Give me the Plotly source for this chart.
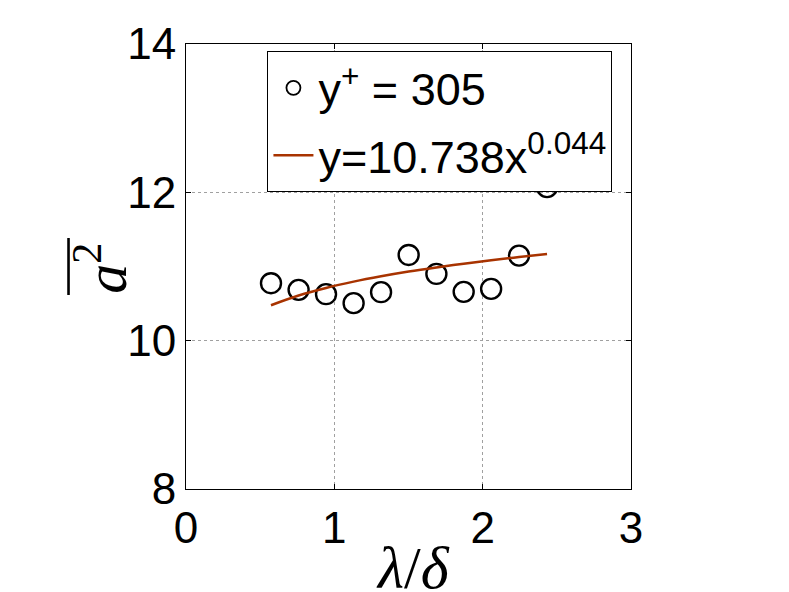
import plotly.graph_objects as go

x_vals = [0.573, 0.759, 0.944, 1.130, 1.315, 1.501, 1.688, 1.872, 2.057, 2.245, 2.434]
y_vals = [10.775, 10.685, 10.627, 10.506, 10.654, 11.156, 10.900, 10.658, 10.698, 11.147, 12.07]
fit_y = [10.478, 10.609, 10.711, 10.796, 10.868, 10.932, 10.988, 11.038, 11.084, 11.127, 11.167]

x_ticks = [0, 1, 2, 3]
y_ticks = [8, 10, 12, 14]
series_label = "y<sup>+</sup> = 305"
fit_label = "y=10.738x<sup>0.044</sup>"

FONT = "Liberation Sans, Arial, sans-serif"
SERIF = "Liberation Serif, DejaVu Serif, serif"
LINE_COLOR = "#a83300"

fig = go.Figure()
fig.add_trace(go.Scatter(
    x=x_vals, y=y_vals, mode="markers", showlegend=False,
    marker=dict(symbol="circle-open", size=20, color="black", line=dict(width=2.4, color="black")),
))
fig.add_trace(go.Scatter(
    x=x_vals, y=fit_y, mode="lines", showlegend=False,
    line=dict(color=LINE_COLOR, width=2.5, shape="spline"),
))
# legend-only entries
fig.add_trace(go.Scatter(
    x=[None], y=[None], mode="markers", name=series_label, legendgroup="a",
    marker=dict(symbol="circle-open", size=14, color="black", line=dict(width=1.8, color="black")),
))
fig.add_trace(go.Scatter(
    x=[None], y=[None], mode="lines", name=fit_label, legendgroup="b",
    line=dict(color=LINE_COLOR, width=2.5),
))

axis_common = dict(
    showline=True, linecolor="black", linewidth=1, mirror="ticks",
    ticks="inside", ticklen=5, tickcolor="black",
    showgrid=True, gridcolor="#a0a0a0", griddash="dot", gridwidth=1,
    zeroline=False, automargin=False,
    tickfont=dict(family=FONT, size=44, color="black"),
)

fig.update_layout(
    width=789, height=592,
    paper_bgcolor="white", plot_bgcolor="white",
    margin=dict(l=178, r=166, t=36, b=111, autoexpand=False),
    xaxis=dict(range=[0, 3], tickvals=x_ticks, ticktext=[str(v) for v in x_ticks], **axis_common),
    yaxis=dict(range=[8, 14], tickvals=y_ticks, ticktext=[str(v) for v in y_ticks], **axis_common),
    legend=dict(
        x=0.183, y=0.984, xanchor="left", yanchor="top",
        bgcolor="white", bordercolor="black", borderwidth=1,
        font=dict(family=FONT, size=45, color="black"),
        tracegroupgap=6, itemwidth=40,
    ),
    showlegend=True,
)

fig.add_annotation(
    text="<i>λ</i>/<i>δ</i>", xref="paper", yref="paper", x=0.511, y=-0.177,
    xanchor="center", yanchor="middle", showarrow=False,
    font=dict(family=SERIF, size=60, color="black"),
)
fig.add_annotation(
    text="<i>a</i><sup>2</sup>", xref="paper", yref="paper", x=-0.189, y=0.497,
    xanchor="center", yanchor="middle", showarrow=False, textangle=-90,
    font=dict(family=SERIF, size=60, color="black"),
)
fig.add_shape(
    type="line", xref="paper", yref="paper",
    x0=-0.264, x1=-0.264, y0=0.436, y1=0.564,
    line=dict(color="black", width=2.6),
)

fig.write_html("out.html")
